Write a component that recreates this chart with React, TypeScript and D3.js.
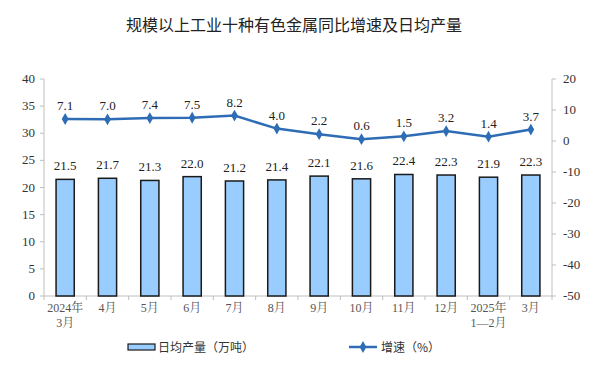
import React from "react";
import * as d3 from "d3";

const categories = ["2024年\n3月", "4月", "5月", "6月", "7月", "8月", "9月", "10月", "11月", "12月", "2025年\n1—2月", "3月"];
const dailyOutput = [21.5, 21.7, 21.3, 22.0, 21.2, 21.4, 22.1, 21.6, 22.4, 22.3, 21.9, 22.3];
const growth = [7.1, 7.0, 7.4, 7.5, 8.2, 4.0, 2.2, 0.6, 1.5, 3.2, 1.4, 3.7];
const leftTicks = [0, 5, 10, 15, 20, 25, 30, 35, 40];
const rightTicks = [-50, -40, -30, -20, -10, 0, 10, 20];
const title = "规模以上工业十种有色金属同比增速及日均产量";
const legendBar = "日均产量（万吨）";
const legendLine = "增速（%）";

const W = 600, H = 379;
const left = 44, right = 552, top = 79, bottom = 296;
const serif = "'Liberation Serif', 'Times New Roman', 'Noto Serif CJK SC', 'Noto Sans CJK SC', serif";
const cjk = "'Noto Sans CJK SC', sans-serif";

export default function App() {
  const x = d3.scaleBand<string>().domain(categories).range([left, right]).paddingInner(0.57).paddingOuter(0.285);
  const yL = d3.scaleLinear().domain([0, 40]).range([bottom, top]);
  const yR = d3.scaleLinear().domain([-50, 20]).range([bottom, top]);
  const cx = (i: number) => (x(categories[i]) as number) + x.bandwidth() / 2;
  const line = d3.line<number>().x((_, i) => cx(i)).y((d) => yR(d));
  const step = (right - left) / categories.length;
  const axisColor = "#bfbfbf";
  const diamond = d3.symbol().type(d3.symbolDiamond).size(40)();

  return (
    <svg width={W} height={H} style={{ position: "absolute", left: 0, top: 0, background: "#fff" }}>
      <text x={294} y={31} textAnchor="middle" fontFamily={cjk} fontSize={16} fill="#222">{title}</text>

      {/* axes */}
      <line x1={left} x2={left} y1={top} y2={bottom} stroke={axisColor} />
      <line x1={right} x2={right} y1={top} y2={bottom} stroke={axisColor} />
      <line x1={left} x2={right} y1={bottom} y2={bottom} stroke={axisColor} />
      {leftTicks.map((t) => (
        <g key={"l" + t}>
          <line x1={left - 4} x2={left} y1={yL(t)} y2={yL(t)} stroke={axisColor} />
          <text x={left - 9} y={yL(t) + 4} textAnchor="end" fontFamily={serif} fontSize={13} fill="#333">{t}</text>
        </g>
      ))}
      {rightTicks.map((t) => (
        <g key={"r" + t}>
          <line x1={right} x2={right + 4} y1={yR(t)} y2={yR(t)} stroke={axisColor} />
          <text x={right + 11} y={yR(t) + 4} textAnchor="start" fontFamily={serif} fontSize={13} fill="#333">{t}</text>
        </g>
      ))}
      {d3.range(categories.length + 1).map((i) => (
        <line key={"xt" + i} x1={left + i * step} x2={left + i * step} y1={bottom} y2={bottom + 4} stroke={axisColor} />
      ))}
      {categories.map((c, i) => (
        <text key={"xl" + i} x={cx(i)} y={bottom + 16} textAnchor="middle" fontFamily={serif} fontSize={12} fill="#555">
          {c.split("\n").map((s, j) => (
            <tspan key={j} x={cx(i)} dy={j === 0 ? 0 : 15}>{s}</tspan>
          ))}
        </text>
      ))}

      {/* bars */}
      {dailyOutput.map((v, i) => (
        <g key={"b" + i}>
          <rect x={x(categories[i])} y={yL(v)} width={x.bandwidth()} height={bottom - yL(v)} fill="#99ccff" stroke="#1a1a1a" strokeWidth={1.5} />
          <text x={cx(i)} y={yL(v) - 9} textAnchor="middle" fontFamily={serif} fontSize={13} fill="#222">{v.toFixed(1)}</text>
        </g>
      ))}

      {/* line */}
      <path d={line(growth) || ""} fill="none" stroke="#2e6db5" strokeWidth={2.5} />
      {growth.map((v, i) => (
        <g key={"p" + i}>
          <path d={diamond || ""} transform={`translate(${cx(i)},${yR(v)})`} fill="#2e6db5" />
          <text x={cx(i)} y={yR(v) - 9} textAnchor="middle" fontFamily={serif} fontSize={13} fill="#222">{v.toFixed(1)}</text>
        </g>
      ))}

      {/* legend */}
      <rect x={128} y={344} width={27} height={6} fill="#99ccff" stroke="#1a1a1a" strokeWidth={1.2} />
      <text x={158} y={352} fontFamily={cjk} fontSize={12} fill="#333">{legendBar}</text>
      <line x1={349} x2={377} y1={347} y2={347} stroke="#2e6db5" strokeWidth={2.5} />
      <path d={diamond || ""} transform="translate(363,347)" fill="#2e6db5" />
      <text x={381} y={352} fontFamily={cjk} fontSize={12} fill="#333">{legendLine}</text>
    </svg>
  );
}
